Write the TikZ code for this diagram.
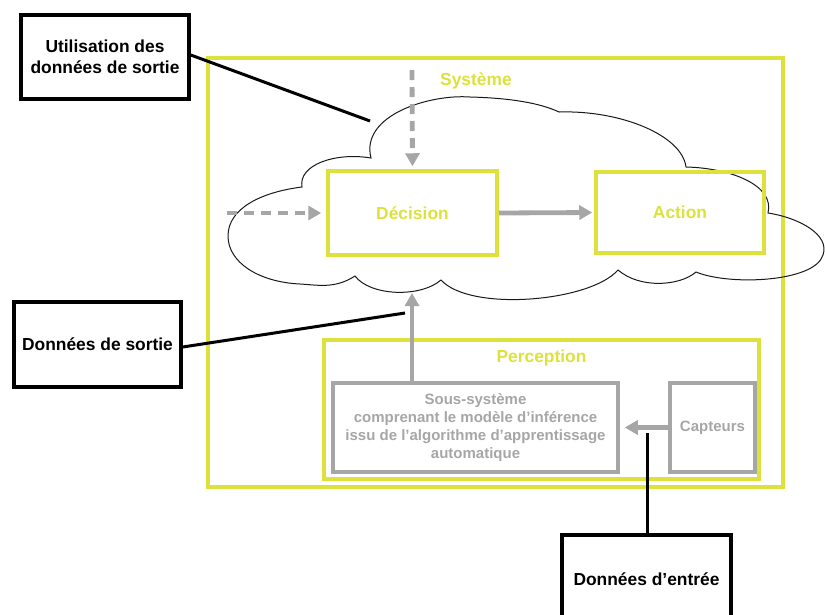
\documentclass[tikz,border=0pt]{standalone}
\usepackage{fontspec}
\setmainfont{Liberation Sans}
\usetikzlibrary{arrows.meta}
\definecolor{sysyellow}{RGB}{221,225,60}
\definecolor{flowgray}{RGB}{166,166,166}
\begin{document}
\begin{tikzpicture}[x=1pt,y=-1pt,
  lbl/.style={font=\fontsize{17.4}{21}\selectfont\bfseries, align=center},
  blackbox/.style={draw=black, line width=3.5pt, inner sep=0pt, lbl},
  yellowbox/.style={draw=sysyellow, line width=3.5pt, inner sep=0pt, lbl, text=sysyellow},
  frame/.style={draw=sysyellow, line width=3.5pt, inner sep=0pt},
  graybox/.style={draw=flowgray, line width=3.5pt, inner sep=0pt, text=flowgray,
    font=\fontsize{15}{18.3}\selectfont\bfseries, align=center},
  flow/.style={draw=flowgray, line width=4.8pt, -{Triangle[length=13pt,width=14pt]}},
  dashflow/.style={flow, dash pattern=on 10pt off 7pt},
  callout/.style={draw=black, line width=3pt},
  cloudline/.style={draw=black!90, line width=1pt}
]
\useasboundingbox (0,0) rectangle (825,614);
\clip (0,0) rectangle (825,614);

% outer system frame and perception frame
\node[frame, minimum width=575pt, minimum height=429pt] (sys) at (495.5,272.5) {};
\node[lbl, text=sysyellow] (systitle) at (476,81) {Système};
\node[frame, minimum width=435pt, minimum height=139pt] (perc) at (541.5,409.5) {};
\node[lbl, text=sysyellow] (perctitle) at (541.5,358) {Perception};

% cloud
\draw[cloudline] (302,187)
  .. controls (298,165) and (335,152) .. (371,158)
  .. controls (360,115) and (430,94) .. (470,97)
  .. controls (510,98) and (540,103) .. (559,112)
  .. controls (620,110) and (682,135) .. (686,167)
  .. controls (730,168) and (775,185) .. (768,213)
  .. controls (800,218) and (830,235) .. (823,255)
  .. controls (815,282) and (730,286) .. (696,272)
  .. controls (680,286) and (640,289) .. (618,270)
  .. controls (590,302) and (470,312) .. (441,280)
  .. controls (420,298) and (370,296) .. (355,276)
  .. controls (335,289) and (318,285) .. (300,284)
  .. controls (258,282) and (228,262) .. (228,236)
  .. controls (228,208) and (262,192) .. (302,187) -- cycle;

% decision / action
\node[yellowbox, minimum width=169pt, minimum height=84pt] (dec) at (412.5,213) {Décision};
\node[yellowbox, minimum width=168pt, minimum height=81pt] (act) at (680,212.5) {Action};

% perception contents
\node[graybox, minimum width=285pt, minimum height=89pt] (sub) at (475.5,427.5)
  {Sous-système\\comprenant le modèle d’inférence\\issu de l’algorithme d’apprentissage\\automatique};
\node[graybox, minimum width=85pt, minimum height=89pt] (sens) at (712.5,427.5) {Capteurs};

% flows
\coordinate (topin) at (412,70);
\coordinate (leftin) at (227,213);
\coordinate (cloudin) at (412,293);
\draw[dashflow, shorten >=3pt] (topin) -- (dec.north);
\draw[dashflow, shorten >=5pt] (leftin) -- (dec.west);
\draw[flow, shorten >=2pt] (dec.east) -- (act.west);
\draw[flow] (sub.north -| topin) -- (cloudin);
\draw[flow, shorten >=5pt] (sens.west) -- (sub.east);

% callouts
\node[blackbox, minimum width=168pt, minimum height=84pt] (use) at (105,57) {Utilisation des\\données de sortie};
\node[blackbox, minimum width=167pt, minimum height=85pt] (out) at (97.5,344.5) {Données de sortie};
\node[blackbox, minimum width=169pt, minimum height=88pt] (in) at (646.5,579) {Données d’entrée};
\coordinate (usetip) at (370,121);
\coordinate (outtip) at (405,313);
\coordinate (intip) at (647,433);
\draw[callout] (use.east |- 0,55) -- (usetip);
\draw[callout] (out.east |- 0,347) -- (outtip);
\draw[callout] (in.north -| intip) -- (intip);
\end{tikzpicture}
\end{document}
